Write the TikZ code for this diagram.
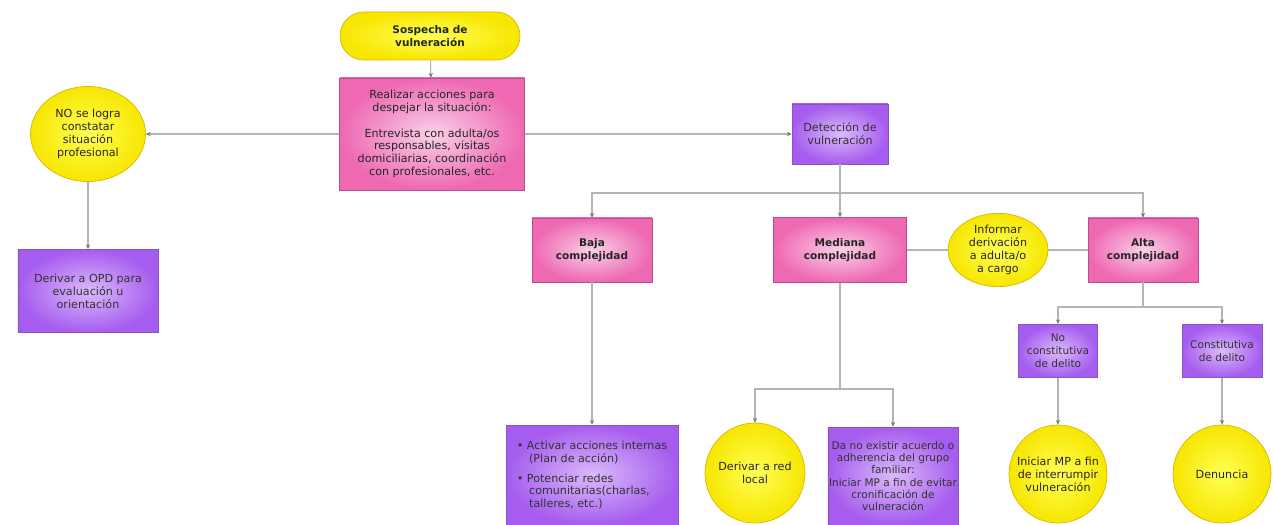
\documentclass[tikz,border=0pt]{standalone}
\usepackage{fontspec}
\setmainfont{DejaVu Sans}
\usetikzlibrary{shapes.geometric,arrows.meta}

\definecolor{yout}{HTML}{F7E600}
\definecolor{yin}{HTML}{FFFF55}
\definecolor{yline}{HTML}{D9B800}
\definecolor{pout}{HTML}{EE68B2}
\definecolor{pin}{HTML}{FAD0E8}
\definecolor{pline}{HTML}{B8508E}
\definecolor{vout}{HTML}{A65CEE}
\definecolor{vin}{HTML}{DABAFB}
\definecolor{vline}{HTML}{8456BE}
\definecolor{conector}{HTML}{B4B4B4}

\tikzset{
  yellownode/.style={ellipse, draw=yline, line width=0.6pt, shading=radial,
    inner color=yin, outer color=yout, align=center, inner sep=0pt, text=black!85},
  yellowcircle/.style={yellownode, circle, minimum size=29.4mm},
  pinkbox/.style={rectangle, draw=pline, line width=0.5pt, shading=radial,
    inner color=pin, outer color=pout, align=center, font=\fontsize{9}{11}\selectfont\bfseries, text=black!85},
  violetbox/.style={rectangle, draw=vline, line width=0.5pt, shading=radial,
    inner color=vin, outer color=vout, align=center, inner sep=2pt, text=black!80},
  conn/.style={draw=conector, line width=0.9pt},
  arr/.style={conn, -{Stealth[length=4pt,width=3.5pt,color=black!55]}}
}

\begin{document}
\begin{tikzpicture}[x=0.3mm, y=-0.3mm, font=\fontsize{9.5}{11}\selectfont]
  \useasboundingbox[fill=white] (0,0) rectangle (1273,525);

  \node[yellownode, rectangle, rounded corners=7.2mm, minimum width=54mm, minimum height=14.4mm,
        font=\fontsize{9}{11}\selectfont\bfseries] (sospecha) at (430,36) {Sospecha de\\vulneración};
  \node[pinkbox, font=\fontsize{9.5}{11}\selectfont, minimum width=55.5mm, minimum height=33.6mm] (acciones) at (432,134)
        {Realizar acciones para\\despejar la situación:\\[11pt]Entrevista con adulta/os\\responsables, visitas\\domiciliarias, coordinación\\con profesionales, etc.};
  \node[yellownode, minimum width=34.5mm, minimum height=28.5mm] (nologra) at (88,134)
        {NO se logra\\constatar\\situación\\profesional};
  \node[violetbox, minimum width=42mm, minimum height=25mm] (opd) at (88,291)
        {Derivar a OPD para\\evaluación u\\orientación};
  \node[violetbox, minimum width=28.8mm, minimum height=18mm] (deteccion) at (840,134)
        {Detección de\\vulneración};

  \node[pinkbox, minimum width=36mm, minimum height=19.2mm] (baja) at (592,250) {Baja\\complejidad};
  \node[pinkbox, minimum width=40mm, minimum height=19.5mm] (mediana) at (840,250) {Mediana\\complejidad};
  \node[yellownode, minimum width=30mm, minimum height=22mm] (informar) at (998,250)
        {Informar\\derivación\\a adulta/o\\a cargo};
  \node[pinkbox, minimum width=33mm, minimum height=19.2mm] (alta) at (1143,250) {Alta\\complejidad};

  \node[violetbox, font=\fontsize{9}{11}\selectfont, minimum width=23.7mm, minimum height=16mm] (nodelito) at (1058,351)
        {No\\constitutiva\\de delito};
  \node[violetbox, font=\fontsize{9}{11}\selectfont, minimum width=24mm, minimum height=16mm] (delito) at (1222,351)
        {Constitutiva\\de delito};
  \node[yellowcircle] (iniciarmp) at (1058,474) {Iniciar MP a fin\\de interrumpir\\vulneración};
  \node[yellowcircle] (denuncia) at (1222,474) {Denuncia};

  \node[violetbox, align=left, minimum width=51.6mm, minimum height=30mm] (activar) at (592,475)
        {• Activar acciones internas\\\hspace*{1.1em}(Plan de acción)\\[6pt]• Potenciar redes\\\hspace*{1.1em}comunitarias(charlas,\\\hspace*{1.1em}talleres, etc.)};
  \node[yellowcircle, minimum size=30mm] (redlocal) at (755,473) {Derivar a red\\local};
  \node[violetbox, font=\fontsize{9}{10.5}\selectfont, inner sep=1pt, minimum width=39mm, minimum height=29.4mm] (noexistir) at (893,476)
        {Da no existir acuerdo o\\adherencia del grupo\\familiar:\\Iniciar MP a fin de evitar\\cronificación de\\vulneración};

  \coordinate (busdet) at (840,193);
  \coordinate (busmed) at (840,389);
  \coordinate (busalta) at (1143,307);

  \draw[arr] (sospecha) -- (acciones);
  \draw[arr] (acciones) -- (nologra);
  \draw[arr] (acciones) -- (deteccion);
  \draw[arr] (nologra) -- (opd);

  \draw[conn] (deteccion) -- (busdet);
  \draw[arr] (busdet) -| (baja);
  \draw[arr] (busdet) -- (mediana);
  \draw[arr] (busdet) -| (alta);
  \draw[conn] (mediana) -- (informar);
  \draw[conn] (informar) -- (alta);

  \draw[arr] (baja) -- (activar);
  \draw[conn] (mediana) -- (busmed);
  \draw[arr] (busmed) -| (redlocal);
  \draw[arr] (busmed) -| (noexistir);

  \draw[conn] (alta) -- (busalta);
  \draw[arr] (busalta) -| (nodelito);
  \draw[arr] (busalta) -| (delito);
  \draw[arr] (nodelito) -- (iniciarmp);
  \draw[arr] (delito) -- (denuncia);
\end{tikzpicture}
\end{document}
